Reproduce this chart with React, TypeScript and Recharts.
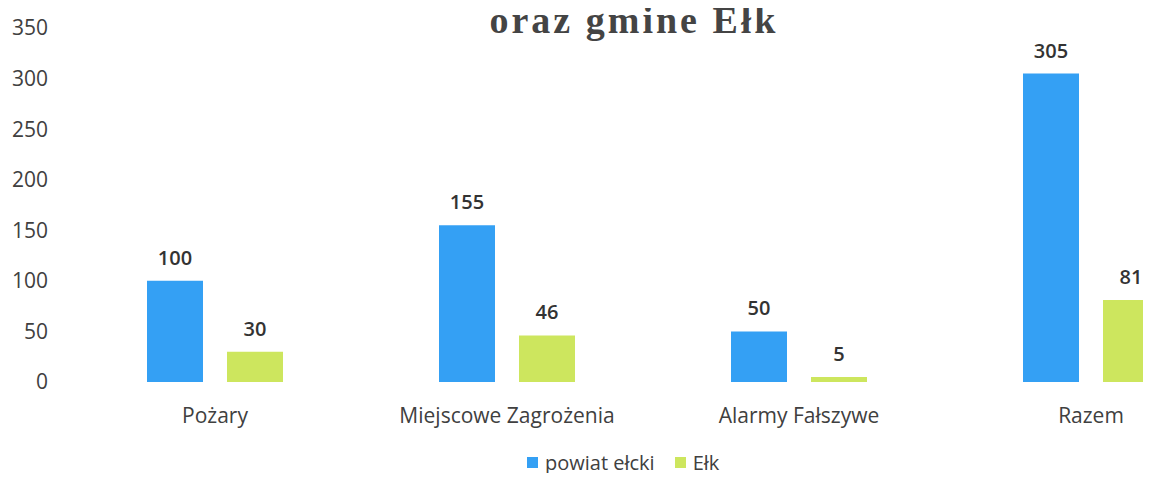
import { BarChart, Bar, XAxis, YAxis, LabelList } from 'recharts'

const categories = ['Pożary', 'Miejscowe Zagrożenia', 'Alarmy Fałszywe', 'Razem']
const powiatValues = [100, 155, 50, 305]
const elkValues = [30, 46, 5, 81]
const yTicks = [0, 50, 100, 150, 200, 250, 300, 350]

const BLUE = '#34a0f4'
const GREEN = '#cde65e'
const FONT = '"Open Sans", "Noto Sans", sans-serif'

const data = categories.map((name, i) => ({
  name,
  powiat: powiatValues[i],
  elk: elkValues[i],
}))

function LegendItem({ color, label }: { color: string; label: string }) {
  return (
    <span style={{ display: 'inline-flex', alignItems: 'center', marginRight: 20 }}>
      <span style={{ width: 11, height: 11, background: color, display: 'inline-block', marginRight: 7 }} />
      <span>{label}</span>
    </span>
  )
}

export default function App() {
  return (
    <div style={{ position: 'relative', margin: -8, width: 1151, height: 481, overflow: 'hidden', background: '#fff' }}>
      <div
        style={{
          position: 'absolute', top: 4, left: 0, width: 1268, textAlign: 'center',
          fontFamily: '"Liberation Serif", serif', fontWeight: 700, fontSize: 38, letterSpacing: 3,
          color: '#444', lineHeight: 0.85, whiteSpace: 'nowrap',
        }}
      >
        oraz gmine Ełk
      </div>
      <BarChart
        width={1240}
        height={481}
        data={data}
        margin={{ top: 28, right: 3, bottom: 0, left: 0 }}
        barSize={56}
        barGap={24}
      >
        <YAxis
          domain={[0, 350]}
          ticks={yTicks}
          width={69}
          axisLine={false}
          tickLine={false}
          tickMargin={15}
          tick={{ fill: '#404040', fontSize: 21, fontFamily: FONT }}
        />
        <XAxis
          dataKey="name"
          height={99}
          axisLine={false}
          tickLine={false}
          tickMargin={20}
          interval={0}
          tick={{ fill: '#404040', fontSize: 21, fontFamily: FONT }}
        />
        <Bar dataKey="powiat" fill={BLUE} isAnimationActive={false}>
          <LabelList dataKey="powiat" position="top" offset={16} fill="#333" fontSize={20} fontWeight={600} fontFamily={FONT} />
        </Bar>
        <Bar dataKey="elk" fill={GREEN} isAnimationActive={false}>
          <LabelList dataKey="elk" position="top" offset={16} fill="#333" fontSize={20} fontWeight={600} fontFamily={FONT} />
        </Bar>
      </BarChart>
      <div
        style={{
          position: 'absolute', top: 448, left: 527, fontFamily: FONT, fontSize: 20,
          color: '#404040', whiteSpace: 'nowrap', lineHeight: '26px',
        }}
      >
        <LegendItem color={BLUE} label="powiat ełcki" />
        <LegendItem color={GREEN} label="Ełk" />
      </div>
    </div>
  )
}
